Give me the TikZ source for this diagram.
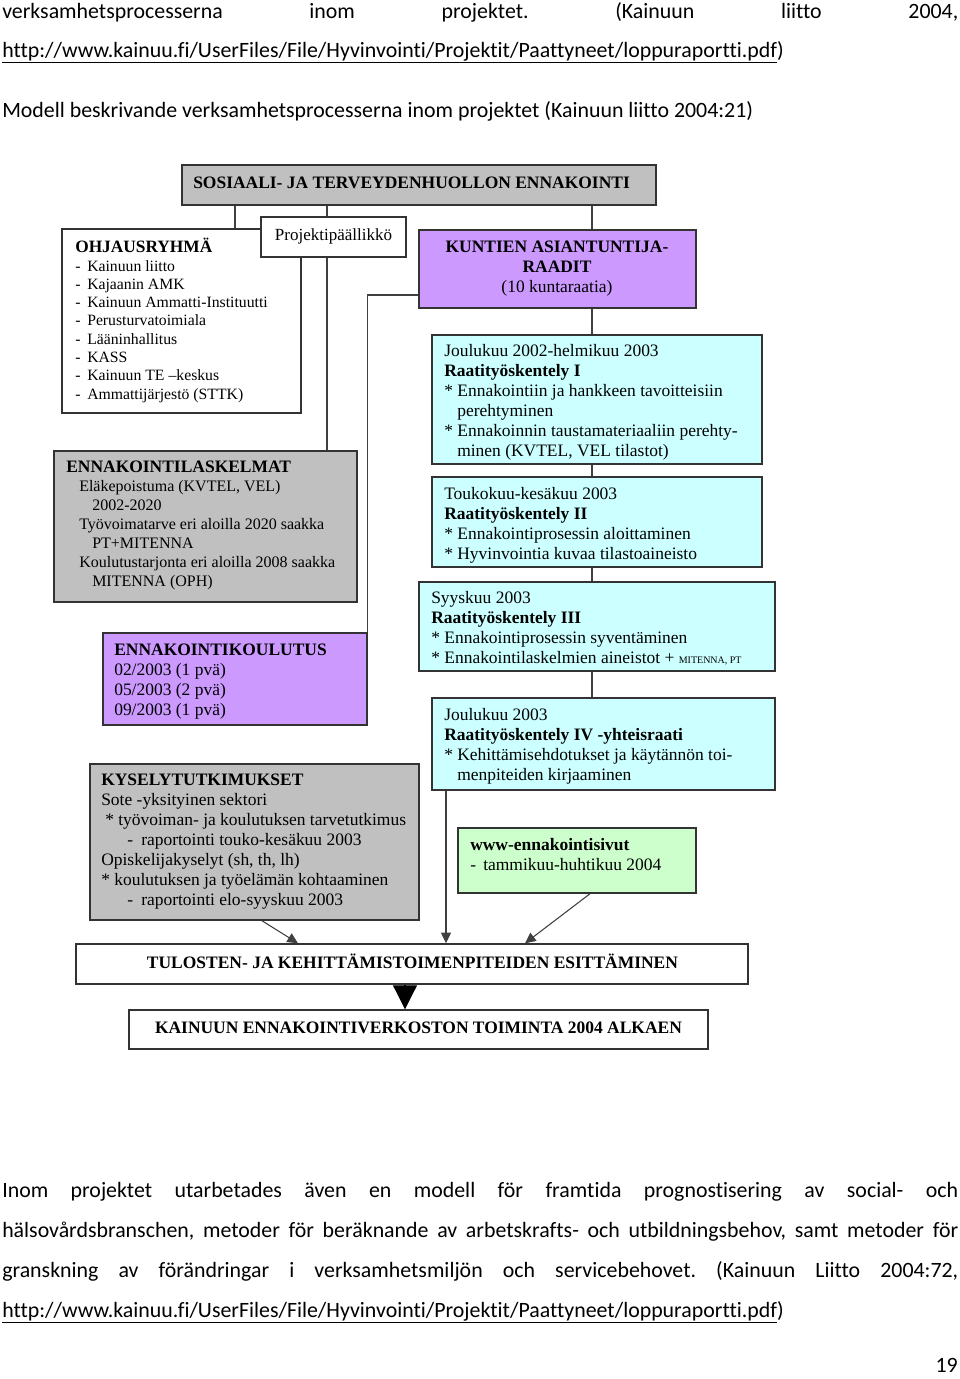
\documentclass[tikz,border=0pt]{standalone}
\usepackage{fontspec}
\setmainfont{Liberation Serif}
\newfontfamily\bodyfont[Ligatures=NoCommon]{Carlito}
\usetikzlibrary{arrows.meta,fit}
\pgfdeclarelayer{bg}\pgfsetlayers{bg,main}
\definecolor{boxgray}{HTML}{C0C0C0}
\definecolor{boxpurple}{HTML}{CC99FF}
\definecolor{boxcyan}{HTML}{CCFFFF}
\definecolor{boxgreen}{HTML}{CCFFCC}
\newcommand\pxi[1]{\hspace*{\dimexpr #1pt*3/4\relax}}
\begin{document}
\frenchspacing
\begin{tikzpicture}[x=0.75pt,y=-0.75pt,
  box/.style={draw=black!80, line width=1.1pt, inner sep=0pt},
  conn/.style={draw=black!75, line width=0.8pt},
  arr/.style={conn, -{Triangle[length=8pt,width=7.5pt]}},
  bigarr/.style={draw=black, line width=0.8pt, -{Triangle[length=18pt,width=18pt]}},
  txt/.style={anchor=base west, inner sep=0pt, align=left, font=\fontsize{13.1}{15}\selectfont},
  ctxt/.style={anchor=base, inner sep=0pt, align=center, font=\fontsize{13.1}{15}\selectfont},
  btxt/.style={anchor=base west, inner sep=0pt, font=\bodyfont\fontsize{16.4}{19}\selectfont}]
\useasboundingbox (0,0) rectangle (960,1379);

% ---------- body text ----------
\node[btxt] (l1) at (2,18) {\makebox[717pt][s]{verksamhetsprocesserna inom projektet. (Kainuun liitto 2004,}};
\node[btxt] (l2) at (2,57) {\underline{http://www.kainuu.fi/UserFiles/File/Hyvinvointi/Projektit/Paattyneet/loppuraportti.pdf})};
\node[btxt] (l3) at (2,117) {Modell beskrivande verksamhetsprocesserna inom projektet (Kainuun liitto 2004:21)};

\node[btxt] (b1) at (2,1197) {\makebox[717pt][s]{Inom projektet utarbetades även en modell för framtida prognostisering av social- och}};
\node[btxt] (b2) at (2,1237) {\makebox[717pt][s]{hälsovårdsbranschen, metoder för beräknande av arbetskrafts- och utbildningsbehov, samt metoder för}};
\node[btxt] (b3) at (2,1277) {\makebox[717pt][s]{granskning av förändringar i verksamhetsmiljön och servicebehovet. (Kainuun Liitto 2004:72,}};
\node[btxt] (b4) at (2,1317) {\underline{http://www.kainuu.fi/UserFiles/File/Hyvinvointi/Projektit/Paattyneet/loppuraportti.pdf})};
\node[btxt, anchor=base east] (pg) at (958,1372) {19};

% ---------- boxes ----------
\node[box, fill=boxgray, fit={(182,165)(656,205)}] (top) {};
\node[box, fill=white, fit={(62,229)(301,413)}] (ohj) {};
\node[box, fill=white, fit={(261,217)(406,257)}] (pp) {};
\node[box, fill=boxpurple, fit={(419,230)(696,308)}] (kun) {};
\node[box, fill=boxcyan, fit={(432,335)(762,464)}] (j1) {};
\node[box, fill=boxcyan, fit={(432,477)(762,567)}] (tk) {};
\node[box, fill=boxcyan, fit={(419,582)(775,671)}] (sy) {};
\node[box, fill=boxcyan, fit={(432,698)(775,790)}] (j4) {};
\node[box, fill=boxgreen, fit={(458,828)(696,893)}] (www) {};
\node[box, fill=boxgray, fit={(54,451)(357,602)}] (lask) {};
\node[box, fill=boxpurple, fit={(103,633)(367,725)}] (kou) {};
\node[box, fill=boxgray, fit={(90,764)(419,920)}] (kys) {};
\node[box, fill=white, fit={(76,944)(748,984)}] (tul) {};
\node[box, fill=white, fit={(129,1010)(708,1049)}] (kai) {};

% ---------- box texts (anchored at the baseline of their last line) ----------
\node[txt] (topt) at (193,188) {\bfseries SOSIAALI- JA TERVEYDENHUOLLON ENNAKOINTI};
\node[txt, font=\fontsize{11.8}{13.7}\selectfont] (ohjt) at (75,399) {{\fontsize{13}{13.7}\selectfont\bfseries OHJAUSRYHMÄ}\\
\makebox[9pt][l]{-}Kainuun liitto\\
\makebox[9pt][l]{-}Kajaanin AMK\\
\makebox[9pt][l]{-}Kainuun Ammatti-Instituutti\\
\makebox[9pt][l]{-}Perusturvatoimiala\\
\makebox[9pt][l]{-}Lääninhallitus\\
\makebox[9pt][l]{-}KASS\\
\makebox[9pt][l]{-}Kainuun TE –keskus\\
\makebox[9pt][l]{-}Ammattijärjestö (STTK)};
\node[ctxt, font=\fontsize{12.75}{15}\selectfont] (ppt) at (333.5,240) {Projektipäällikkö};
\node[ctxt] (kunt) at (557,292) {{\bfseries KUNTIEN ASIANTUNTIJA-}\\{\bfseries RAADIT}\\(10 kuntaraatia)};
\node[txt] (j1t) at (444,456) {Joulukuu 2002-helmikuu 2003\\
{\bfseries Raatityöskentely I}\\
* Ennakointiin ja hankkeen tavoitteisiin\\
\pxi{13}perehtyminen\\
* Ennakoinnin taustamateriaaliin perehty-\\
\pxi{13}minen (KVTEL, VEL tilastot)};
\node[txt] (tkt) at (444,559) {Toukokuu-kesäkuu 2003\\
{\bfseries Raatityöskentely II}\\
* Ennakointiprosessin aloittaminen\\
* Hyvinvointia kuvaa tilastoaineisto};
\node[txt] (syt) at (431,663) {Syyskuu 2003\\
{\bfseries Raatityöskentely III}\\
* Ennakointiprosessin syventäminen\\
* Ennakointilaskelmien aineistot + {\fontsize{7.5}{9}\selectfont MITENNA, PT}};
\node[txt] (j4t) at (444,780) {Joulukuu 2003\\
{\bfseries Raatityöskentely IV -yhteisraati}\\
* Kehittämisehdotukset ja käytännön toi-\\
\pxi{13}menpiteiden kirjaaminen};
\node[txt] (wwwt) at (470,870) {{\bfseries www-ennakointisivut}\\
\makebox[9.75pt][l]{-}tammikuu-huhtikuu 2004};
\node[txt, font=\fontsize{12}{14.25}\selectfont] (laskt) at (66,586) {{\fontsize{13.1}{13.5}\selectfont\bfseries ENNAKOINTILASKELMAT}\\
\pxi{13}Eläkepoistuma (KVTEL, VEL)\\
\pxi{26}2002-2020\\
\pxi{13}Työvoimatarve eri aloilla 2020 saakka\\
\pxi{26}PT+MITENNA\\
\pxi{13}Koulutustarjonta eri aloilla 2008 saakka\\
\pxi{26}MITENNA (OPH)};
\node[txt] (kout) at (114,715) {{\bfseries ENNAKOINTIKOULUTUS}\\
02/2003 (1 pvä)\\
05/2003 (2 pvä)\\
09/2003 (1 pvä)};
\node[txt] (kyst) at (101,905) {{\bfseries KYSELYTUTKIMUKSET}\\
Sote -yksityinen sektori\\
\pxi{4}* työvoiman- ja koulutuksen tarvetutkimus\\
\pxi{26}\makebox[10.5pt][l]{-}raportointi touko-kesäkuu 2003\\
Opiskelijakyselyt (sh, th, lh)\\
* koulutuksen ja työelämän kohtaaminen\\
\pxi{26}\makebox[10.5pt][l]{-}raportointi elo-syyskuu 2003};
\node[ctxt] (tult) at (412.5,968) {\bfseries TULOSTEN- JA KEHITTÄMISTOIMENPITEIDEN ESITTÄMINEN};
\node[ctxt] (kait) at (418.5,1033) {\bfseries KAINUUN ENNAKOINTIVERKOSTON TOIMINTA 2004 ALKAEN};

% ---------- connectors ----------
\coordinate (c235) at (235,0);
\coordinate (c327) at (327,0);
\coordinate (c592) at (592,0);
\coordinate (cy295) at (0,295);
\coordinate (c262) at (262,0);
\coordinate (c298) at (298,0);
\coordinate (c446) at (446,0);
\coordinate (c590) at (590,0);
\coordinate (c525) at (525,0);
\coordinate (c405) at (405,0);
\begin{pgfonlayer}{bg}
\fill[white] (0,0) rectangle (960,1379);
\draw[conn] (top.south -| c235) -- (ohj.north -| c235);
\draw[conn] (top.south -| c327) -- (lask.north -| c327);
\draw[conn] (top.south -| c592) -- (kun.north -| c592);
\draw[conn] (kun.south -| c592) -- (j1.north -| c592);
\draw[conn] (j1.south -| c592) -- (tk.north -| c592);
\draw[conn] (tk.south -| c592) -- (sy.north -| c592);
\draw[conn] (sy.south -| c592) -- (j4.north -| c592);
\draw[conn] (kun.west |- cy295) -| (kou.north east);
\end{pgfonlayer}
\draw[arr] (kys.south -| c262) -- (tul.north -| c298);
\draw[arr] (j4.south -| c446) -- (tul.north -| c446);
\draw[arr] (www.south -| c590) -- (tul.north -| c525);
\draw[bigarr] (tul.south -| c405) -- (kai.north -| c405);
\end{tikzpicture}
\end{document}
